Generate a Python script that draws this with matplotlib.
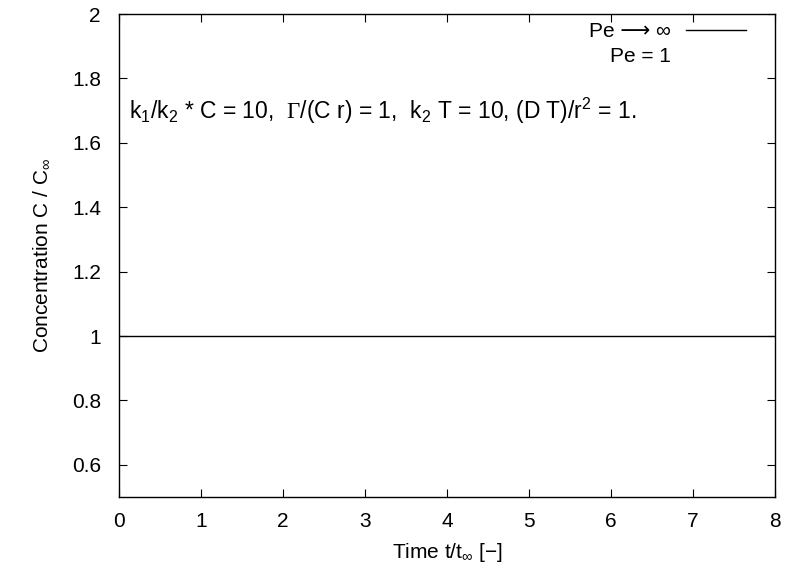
import numpy as np
import matplotlib
matplotlib.use("Agg")
import matplotlib.pyplot as plt
from matplotlib.lines import Line2D
from matplotlib.ticker import FormatStrFormatter

plt.rcParams['font.family'] = ['Liberation Sans', 'DejaVu Sans']
plt.rcParams['mathtext.fontset'] = 'custom'
plt.rcParams['mathtext.rm'] = 'Liberation Sans'
plt.rcParams['mathtext.it'] = 'Liberation Sans'
plt.rcParams['mathtext.sf'] = 'Liberation Serif'

# Time samples and concentration series
time = [0, 1, 2, 3, 4, 5, 6, 7, 8]
conc_pe_inf = [1.0, 1.0, 1.0, 1.0, 1.0, 1.0, 1.0, 1.0, 1.0]
conc_pe_1 = [1.0, 1.0, 1.0, 1.0, 1.0, 1.0, 1.0, 1.0, 1.0]

x_ticks = [0, 1, 2, 3, 4, 5, 6, 7, 8]
y_ticks = [0.6, 0.8, 1.0, 1.2, 1.4, 1.6, 1.8, 2.0]

FS = 15

fig = plt.figure(figsize=(7.86, 5.69), dpi=100)
ax = fig.add_axes([119/786, 1-497/569, 656/786, 483/569])

line_inf, = ax.plot(time, conc_pe_inf, color='black', lw=1.0)
line_1, = ax.plot(time, conc_pe_1, color='black', lw=1.0, linestyle='none')

ax.set_xlim(0, 8)
ax.set_ylim(0.5, 2)
ax.set_xticks(x_ticks)
ax.set_yticks(y_ticks)
ax.yaxis.set_major_formatter(FormatStrFormatter('%g'))
ax.tick_params(direction='in', length=6, width=0.8, top=True, right=True,
               labelsize=FS, colors='black')
ax.tick_params(axis='y', pad=13)
ax.tick_params(axis='x', pad=11)
for s in ax.spines.values():
    s.set_linewidth(1.0)

ax.set_xlabel(r'Time t/t$_\infty$ [$-$]', fontsize=FS, labelpad=7)
ax.set_ylabel(r'Concentration C / C$_\infty$', fontsize=FS, labelpad=14)

ax.text(0.015, 0.800,
        r'k$_1$/k$_2$ * C = 10,  $\mathsf{\Gamma}$/(C r) = 1,  k$_2$ T = 10, (D T)/r$^2$ = 1.',
        transform=ax.transAxes, fontsize=16.5, va='center', ha='left')

ax.legend([line_inf, Line2D([], [], linestyle='none')],
          ['Pe ⟶ ∞', 'Pe = 1'],
          loc='upper right', bbox_to_anchor=(0.969, 1.000), markerfirst=False,
          frameon=False, fontsize=FS, handlelength=2.9, handletextpad=0.7,
          labelspacing=0.25, borderaxespad=0.0)

fig.savefig('out.png', dpi=100)
